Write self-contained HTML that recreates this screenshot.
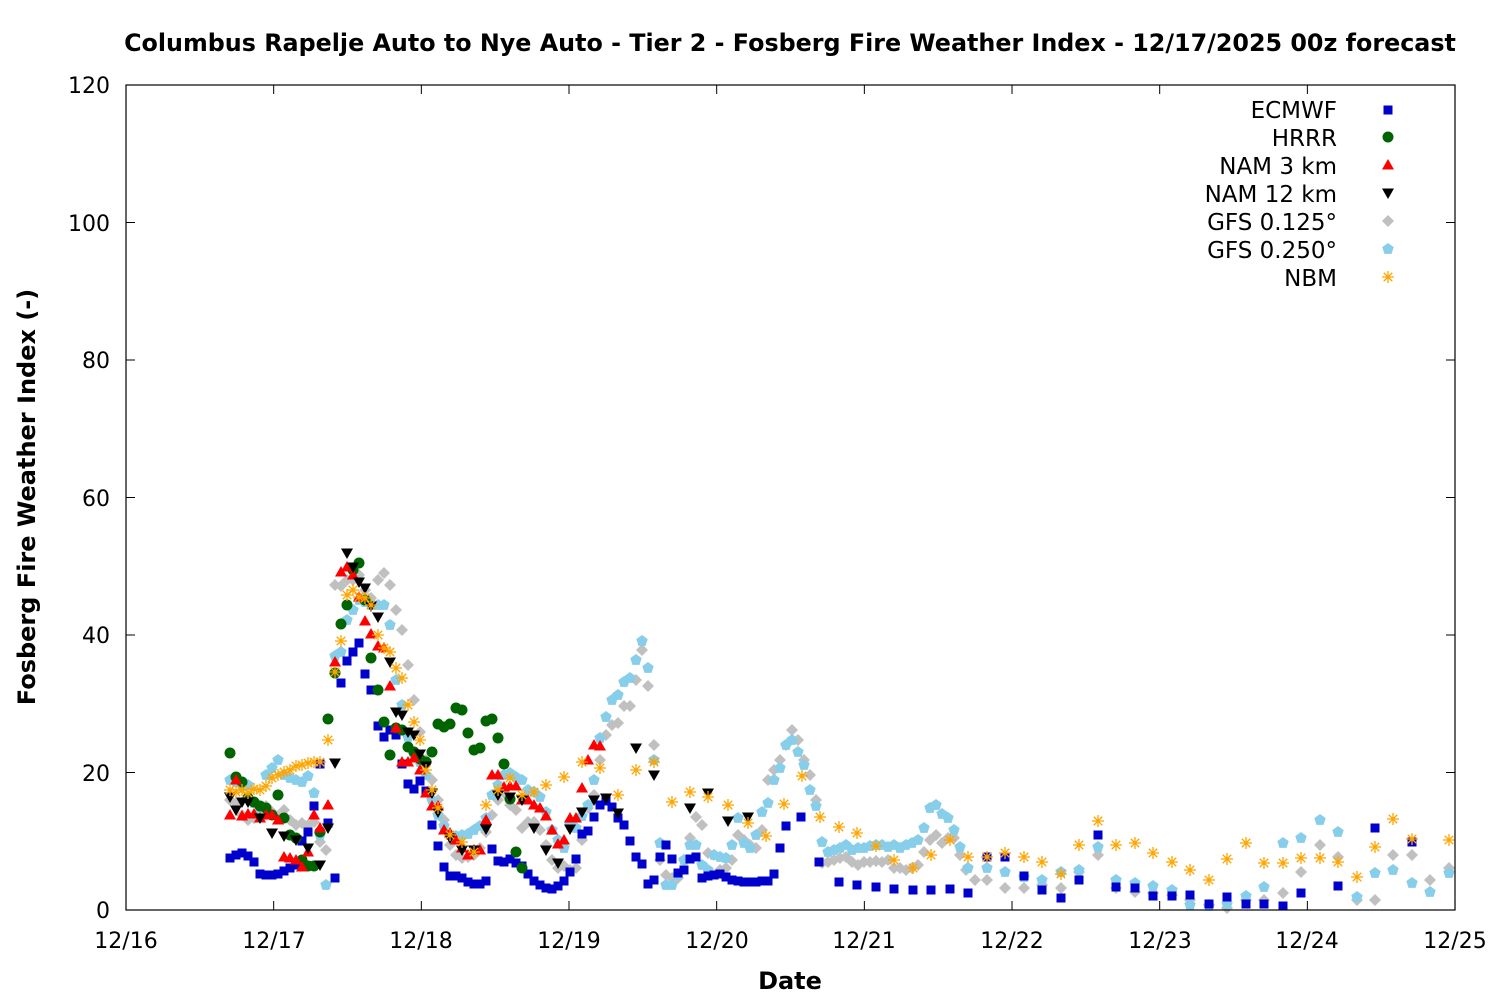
<!DOCTYPE html>
<html><head><meta charset="utf-8"><style>
html,body{margin:0;padding:0;background:#fff;}
svg{display:block;font-family:"DejaVu Sans","Liberation Sans",sans-serif;}
</style></head><body>
<svg id="c" width="1500" height="1000" xmlns="http://www.w3.org/2000/svg">
<rect width="1500" height="1000" fill="#fff"/>
<text x="790" y="51" text-anchor="middle" font-size="23.8" font-weight="bold">Columbus Rapelje Auto to Nye Auto - Tier 2 - Fosberg Fire Weather Index - 12/17/2025 00z forecast</text>
<g font-size="22" text-anchor="end">
<text x="110" y="918">0</text><text x="110" y="781">20</text><text x="110" y="643">40</text><text x="110" y="506">60</text><text x="110" y="368">80</text><text x="110" y="231">100</text><text x="110" y="93">120</text>
</g>
<g font-size="22" text-anchor="middle">
<text x="126" y="948">12/16</text><text x="274" y="948">12/17</text><text x="421" y="948">12/18</text><text x="569" y="948">12/19</text><text x="717" y="948">12/20</text><text x="864" y="948">12/21</text><text x="1012" y="948">12/22</text><text x="1160" y="948">12/23</text><text x="1307" y="948">12/24</text><text x="1455" y="948">12/25</text>
</g>
<text x="790" y="989" text-anchor="middle" font-size="24" font-weight="bold">Date</text>
<text transform="translate(35,497) rotate(-90)" text-anchor="middle" font-size="24" font-weight="bold">Fosberg Fire Weather Index (-)</text>
<g font-size="23" text-anchor="end">
<text x="1337" y="118">ECMWF</text><text x="1337" y="146">HRRR</text><text x="1337" y="174">NAM 3 km</text><text x="1337" y="202">NAM 12 km</text><text x="1337" y="230">GFS 0.125°</text><text x="1337" y="258">GFS 0.250°</text><text x="1337" y="286">NBM</text>
</g>
<g id="ticks" stroke="#000" stroke-width="1"></g>
<g id="pts"></g>
<rect x="126" y="85" width="1329" height="825" fill="none" stroke="#000" stroke-width="1.2"/>
</svg>
<script>
var NS="http://www.w3.org/2000/svg";
var tk=document.getElementById("ticks"),P=document.getElementById("pts");
function el(t,a,p){var e=document.createElementNS(NS,t);for(var k in a)e.setAttribute(k,a[k]);(p||P).appendChild(e);return e;}
for(var i=0;i<=6;i++){var y=910-i*137.5;el("line",{x1:126,x2:135,y1:y,y2:y},tk);el("line",{x1:1446,x2:1455,y1:y,y2:y},tk);}
for(var i=0;i<=9;i++){var x=126+i*147.67;el("line",{x1:x,x2:x,y1:910,y2:901},tk);el("line",{x1:x,x2:x,y1:85,y2:94},tk);}
function mk(type,x,y){
 if(type==0)el("rect",{x:x-4.5,y:y-4.5,width:9,height:9,fill:"#0000cc"});
 else if(type==1)el("circle",{cx:x,cy:y,r:5.5,fill:"#006400"});
 else if(type==2)el("polygon",{points:(x)+","+(y-6)+" "+(x+6)+","+(y+4.5)+" "+(x-6)+","+(y+4.5),fill:"#ff0000"});
 else if(type==3)el("polygon",{points:(x)+","+(y+6)+" "+(x+6)+","+(y-4.5)+" "+(x-6)+","+(y-4.5),fill:"#000"});
 else if(type==4)el("polygon",{points:(x)+","+(y-6)+" "+(x+6)+","+y+" "+x+","+(y+6)+" "+(x-6)+","+y,fill:"#c0c0c0"});
 else if(type==5){var s="";for(var k=0;k<5;k++){var a=-Math.PI/2+k*2*Math.PI/5;s+=(x+6*Math.cos(a))+","+(y+6*Math.sin(a))+" ";}el("polygon",{points:s,fill:"#87ceeb"});}
 else if(type==6){var d="";for(var k=0;k<4;k++){var a=k*Math.PI/4;d+="M"+(x-6*Math.cos(a))+" "+(y-6*Math.sin(a))+"L"+(x+6*Math.cos(a))+" "+(y+6*Math.sin(a));}el("path",{d:d,stroke:"#ffa500","stroke-width":1.3,fill:"none"});}
}
function S(t,a){for(var i=0;i<a.length;i+=2)mk(t,a[i],a[i+1]);}
var legY=[110,137,165,193,221,249,277];for(var t=0;t<7;t++)mk(t,1388,legY[t]);
S(4,[230,800,236,803,242,815,248,820,254,818,260,810,266,806,272,812,278,816,284,810,290,820,296,825,302,823,308,825,314,822,320,842,326,850,335,585,341,586,347,580,353,580,359,575,365,590,371,598,378,580,384,573,390,585,396,610,402,630,408,665,414,700,420,732,426,760,432,780,438,800,444,820,450,845,456,855,462,858,468,857,474,855,480,848,486,832,492,815,498,800,504,793,510,805,516,810,522,828,528,822,534,822,540,830,546,845,552,860,558,868,564,866,570,870,576,868,582,840,588,808,594,795,600,760,606,735,612,725,618,723,624,706,630,706,636,680,642,650,648,686,654,745,660,860,666,875,672,878,678,878,684,860,690,838,696,817,702,825,708,853,714,855,720,870,726,868,732,860,738,835,744,840,750,845,756,848,762,830,768,780,774,770,780,760,786,745,792,730,798,740,804,760,810,775,816,800,822,863,828,862,834,860,840,858,846,857,852,862,858,865,864,862,870,862,876,861,882,862,888,860,894,868,900,868,906,870,912,868,918,865,924,852,930,840,936,835,942,843,948,838,954,838,960,855,966,870,975,880,987,880,1005,888,1024,888,1042,885,1061,888,1079,872,1098,855,1116,888,1135,892,1153,893,1172,895,1190,900,1209,905,1227,908,1246,900,1264,900,1283,893,1301,872,1320,845,1338,857,1357,900,1375,900,1393,855,1412,855,1430,880,1449,868]);
S(5,[230,780,236,782,242,786,248,785,254,803,260,808,266,775,272,768,278,760,284,775,290,778,296,780,302,782,308,776,314,793,320,835,326,885,335,656,341,652,347,620,353,610,359,600,365,602,371,605,378,605,384,605,390,625,396,680,402,705,408,737,414,755,420,762,426,775,432,800,438,815,444,826,450,835,456,836,462,835,468,834,474,830,480,826,486,818,492,795,498,785,504,775,510,773,516,777,522,780,528,790,534,792,540,797,546,812,552,830,558,840,564,848,570,825,576,828,582,816,588,805,594,780,600,738,606,717,612,700,618,695,624,682,630,678,636,660,642,641,648,668,654,760,660,843,666,885,672,885,678,875,684,860,690,845,696,845,702,865,708,870,714,855,720,857,726,858,732,845,738,818,744,843,750,848,756,835,762,812,768,803,774,780,780,768,786,745,792,740,798,752,804,765,810,790,816,806,822,842,828,852,834,850,840,848,846,845,852,850,858,848,864,848,870,846,876,845,882,845,888,847,894,845,900,848,906,845,912,843,918,840,924,828,930,808,936,805,942,814,948,818,954,830,960,847,968,868,987,868,1005,872,1024,877,1042,880,1061,872,1079,870,1098,847,1116,880,1135,883,1153,886,1172,890,1190,905,1209,906,1227,904,1246,896,1264,887,1283,843,1301,838,1320,820,1338,832,1357,897,1375,873,1393,870,1412,883,1430,892,1449,873]);
S(0,[230,858,236,855,242,853,248,856,254,862,260,874,266,875,272,875,278,874,284,871,290,868,296,865,302,841,308,832,314,806,320,764,328,823,335,878,341,683,347,661,353,652,359,643,365,674,371,690,378,726,384,737,390,730,396,735,402,764,408,784,414,789,420,781,426,791,432,825,438,846,444,867,450,876,456,876,462,878,468,882,474,884,480,884,486,881,492,849,498,861,504,862,510,859,516,863,522,866,528,874,534,881,540,885,546,888,552,889,558,886,564,881,570,872,576,859,582,834,588,831,594,817,600,805,606,801,612,807,618,818,624,825,630,841,636,857,642,864,648,884,654,880,660,857,666,845,672,859,678,873,684,870,690,859,696,857,702,878,708,876,714,875,720,874,726,877,732,880,738,881,744,882,750,882,756,882,762,881,768,881,774,874,780,848,786,826,801,817,819,862,839,882,857,885,876,887,894,889,913,890,931,890,950,889,968,893,987,857,1005,857,1024,876,1042,890,1061,898,1079,880,1098,835,1116,887,1135,888,1153,896,1172,896,1190,895,1209,904,1227,897,1246,904,1264,904,1283,906,1301,893,1338,886,1375,828,1412,842]);
S(1,[230,753,236,777,242,782,248,798,254,802,260,806,266,808,272,815,278,795,284,818,290,835,296,838,302,860,308,866,314,866,320,832,328,719,335,673,341,624,347,605,353,570,359,563,365,600,371,658,378,690,384,722,390,755,396,728,402,730,408,747,414,752,420,759,426,762,432,752,438,724,444,727,450,724,456,708,462,710,468,733,474,750,480,748,486,721,492,719,498,738,504,764,510,799,516,852,522,868]);
S(2,[230,815,236,780,242,816,248,814,254,814,260,818,266,815,272,815,278,820,284,857,290,858,296,860,302,867,308,852,314,815,320,828,328,805,335,662,341,572,347,567,353,575,359,597,365,621,371,634,378,646,384,648,390,686,396,728,402,762,408,762,414,758,420,770,426,793,432,806,438,806,444,830,450,833,456,840,462,848,468,855,474,850,480,850,486,820,492,775,498,775,504,787,510,786,516,786,522,800,528,800,534,805,540,808,546,816,552,830,558,844,564,840,570,818,576,818,582,788,588,760,594,745,600,746]);
S(3,[230,797,236,810,242,802,248,802,260,818,272,833,284,836,296,840,308,848,320,865,328,828,335,763,347,553,353,567,359,582,365,588,371,606,378,617,390,662,396,712,402,715,408,732,414,735,420,754,426,766,432,793,438,812,450,838,462,850,474,850,486,829,498,795,510,797,522,800,534,828,546,850,558,863,570,829,582,812,594,800,606,798,618,813,636,748,654,775,690,808,708,793,728,821,748,817]);
S(6,[230,790,236,792,242,790,248,793,254,789,260,790,266,786,272,778,278,775,284,772,290,770,296,766,302,765,308,763,314,762,320,762,328,740,335,672,341,641,347,595,353,590,359,597,365,598,371,605,378,635,384,648,390,652,396,668,402,678,408,705,414,722,420,740,426,770,432,790,438,808,450,835,462,842,474,852,486,805,498,790,510,778,522,795,534,792,546,785,564,777,582,762,600,768,618,795,636,770,654,762,672,802,690,792,708,797,728,805,748,823,766,836,784,804,802,776,820,817,839,827,857,833,876,846,894,860,913,868,931,855,950,840,968,857,987,857,1005,853,1024,857,1042,862,1061,874,1079,845,1098,821,1116,845,1135,843,1153,853,1172,862,1190,870,1209,880,1227,859,1246,843,1264,863,1283,863,1301,858,1320,858,1338,862,1357,877,1375,847,1393,819,1412,839,1449,840]);
</script>
</body></html>
